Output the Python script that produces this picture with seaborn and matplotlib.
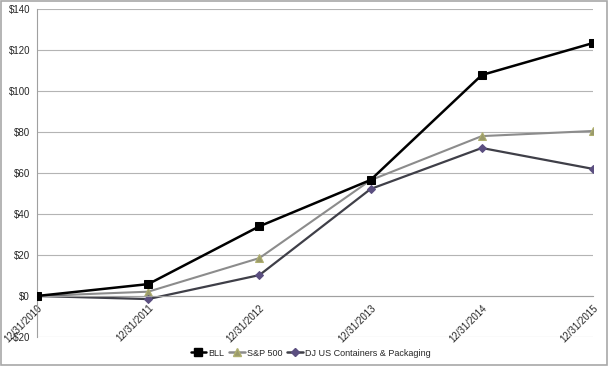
import matplotlib
matplotlib.use("Agg")
import matplotlib.pyplot as plt
import seaborn as sns
import pandas as pd
from matplotlib.patches import Rectangle
from matplotlib.lines import Line2D

dates = ["12/31/2010", "12/31/2011", "12/31/2012", "12/31/2013", "12/31/2014", "12/31/2015"]
bll = [0, 5.8, 34.0, 56.6, 107.8, 123.4]
sp500 = [0, 2.1, 18.5, 56.5, 78.0, 80.5]
djus = [0, -1.5, 10.2, 52.2, 72.2, 62.0]
series_names = ["BLL", "S&P 500", "DJ US Containers & Packaging"]
yticks = [-20, 0, 20, 40, 60, 80, 100, 120, 140]

rows = []
for name, vals in zip(series_names, [bll, sp500, djus]):
    for i, v in enumerate(vals):
        rows.append({"pos": i, "value": v, "series": name})
df = pd.DataFrame(rows)

sns.set_theme(style="white")
plt.rcParams["font.family"] = ["Liberation Sans", "DejaVu Sans"]

fig = plt.figure(figsize=(6.09, 3.66), dpi=100)
ax = fig.add_axes([37/609, 1-337/366, (593-37)/609, (337-9)/366])

palette = {"BLL": "#000000", "S&P 500": "#8c8c8c", "DJ US Containers & Packaging": "#3f3f48"}
markers = {"BLL": "s", "S&P 500": "^", "DJ US Containers & Packaging": "D"}
sns.lineplot(data=df, x="pos", y="value", hue="series", style="series",
             palette=palette, markers=markers, dashes=False, ax=ax,
             linewidth=1.8, markersize=6, legend=False)

mfc = {"BLL": ("#000000", "#000000", 6), "S&P 500": ("#9a9a6a", "#b0b070", 6),
       "DJ US Containers & Packaging": ("#5b4f80", "#5b4f80", 4.5)}
for line, name in zip(ax.lines, series_names):
    fc, ec, ms = mfc[name]
    line.set_markerfacecolor(fc)
    line.set_markeredgecolor(ec)
    line.set_markersize(ms)
ax.lines[0].set_linewidth(1.8)
ax.lines[1].set_linewidth(1.5)
ax.lines[2].set_linewidth(1.6)
ax.lines[0].set_zorder(5)

for s in ["top", "right"]:
    ax.spines[s].set_visible(False)
ax.spines["bottom"].set_position(("data", 0))
ax.spines["left"].set_color("#a0a0a0")
ax.spines["bottom"].set_color("#a0a0a0")
ax.spines["left"].set_linewidth(0.8)
ax.spines["bottom"].set_linewidth(0.8)

ax.set_xlim(0, 5)
ax.set_ylim(-20, 140)
ax.set_yticks(yticks)
ax.set_yticklabels([("-$%d" % -v) if v < 0 else "$%d" % v for v in yticks], fontsize=7)
for v in yticks:
    ax.axhline(v, color="#b4b4b4", lw=0.8, zorder=0)
ax.set_xticks(range(len(dates)))
ax.set_xticklabels(dates, rotation=45, ha="right", va="top", fontsize=7, rotation_mode="anchor")
ax.set_xlabel("")
ax.set_ylabel("")
ax.tick_params(axis="y", length=3, width=0.8, color="#a0a0a0", pad=2)
ax.tick_params(axis="x", length=3, width=0.8, color="#a0a0a0", pad=2, direction="out")

handles = []
for name in series_names:
    fc, ec, ms = mfc[name]
    handles.append(Line2D([0], [0], color=palette[name], marker=markers[name], lw=1.8,
                          markerfacecolor=fc, markeredgecolor=ec, markersize=ms))
fig.legend(handles, series_names, loc="center", bbox_to_anchor=(0.51, 1-353/366), ncol=3,
           frameon=False, fontsize=6.5, handlelength=1.7, handletextpad=0.2, columnspacing=0.6)

fig.patches.append(Rectangle((0.002, 0.003), 0.994, 0.994, transform=fig.transFigure,
                             fill=False, edgecolor="#a8a8a8", lw=1.2))
fig.savefig("out.png", dpi=100)
